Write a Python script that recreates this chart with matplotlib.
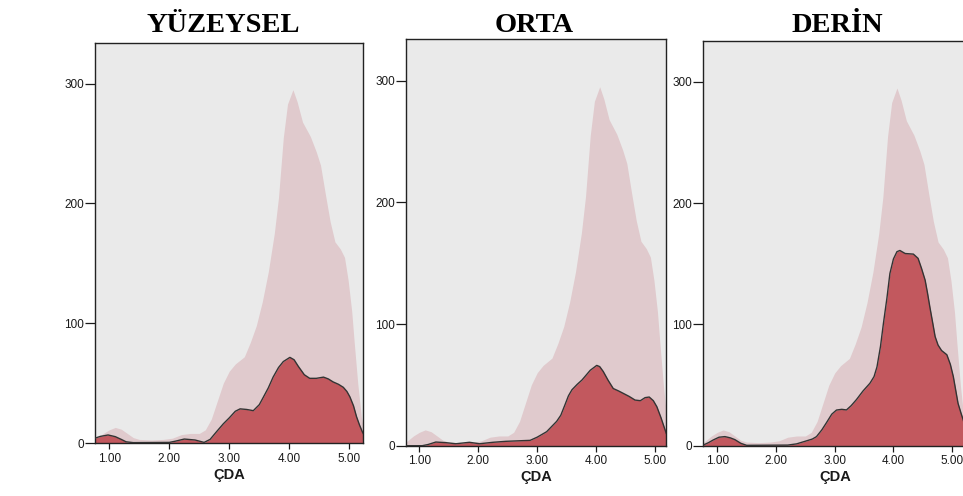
import matplotlib
matplotlib.use('Agg')
import matplotlib.pyplot as plt

# ---- data ----
titles = ['YÜZEYSEL', 'ORTA', 'DERİN']
x_ticks = [1, 2, 3, 4, 5]
x_tick_labels = ['1.00', '2.00', '3.00', '4.00', '5.00']
y_ticks = [0, 100, 200, 300]
y_tick_labels = ['0', '100', '200', '300']
x_label = 'ÇDA'

# total distribution (light background density, same in every panel)
total_x = [0.70, 0.80, 0.90, 1.00, 1.10, 1.20, 1.30, 1.40, 1.50, 1.70, 1.90, 2.05,
           2.20, 2.35, 2.50, 2.60, 2.70, 2.80, 2.90, 3.00, 3.10, 3.25, 3.35, 3.45,
           3.55, 3.65, 3.75, 3.82, 3.90, 3.97, 4.06, 4.13, 4.22, 4.35, 4.45, 4.52,
           4.60, 4.68, 4.76, 4.85, 4.92, 4.98, 5.04, 5.08, 5.14, 5.20, 5.26, 5.32]
total_y = [1, 4, 8, 11, 13, 11.5, 8, 4.5, 3, 2.5, 3, 4,
           7, 8, 8, 11, 20, 35, 50, 60, 66, 72, 84, 98,
           118, 143, 175, 205, 255, 283, 295, 285, 268, 256, 243, 232,
           208, 185, 168, 162, 155, 136, 110, 85, 50, 22, 6, 1]

# YÜZEYSEL group density
yuzeysel_x = [0.70, 0.76, 0.85, 0.98, 1.10, 1.20, 1.28, 1.40, 2.00, 2.10, 2.25, 2.43,
              2.58, 2.68, 2.78, 2.90, 3.00, 3.10, 3.18, 3.29, 3.40, 3.50, 3.57, 3.65,
              3.73, 3.82, 3.90, 4.01, 4.08, 4.15, 4.25, 4.34, 4.45, 4.57, 4.65, 4.73,
              4.82, 4.90, 4.96, 5.01, 5.07, 5.12, 5.17, 5.22, 5.30]
yuzeysel_y = [3, 4, 5.5, 6.7, 5.3, 3, 1, 0.3, 0.5, 1.5, 3.3, 2.5,
              0.5, 3, 9, 16, 21, 26.5, 28.5, 28, 27, 32, 38.5, 46,
              55, 63, 68, 71.5, 69.5, 64, 57, 54, 54, 55, 53.5, 51,
              49, 46.5, 43, 38.5, 31, 22, 15, 9, 2]

# ORTA group density
orta_x = [0.70, 1.05, 1.15, 1.28, 1.45, 1.62, 1.85, 2.02, 2.25, 2.47, 2.88, 3.00,
          3.16, 3.33, 3.40, 3.47, 3.53, 3.59, 3.68, 3.76, 3.90, 4.01, 4.06, 4.12,
          4.20, 4.29, 4.38, 4.46, 4.56, 4.66, 4.75, 4.83, 4.90, 4.97, 5.03, 5.10,
          5.19, 5.30]
orta_y = [0, 0, 1, 3, 2.5, 1.6, 2.8, 1.6, 2.8, 3.6, 4.4, 7,
          11.5, 20, 25, 33.5, 41, 46, 50.5, 54, 62, 66, 65, 61,
          54, 47, 45, 43, 40.5, 37.5, 37, 39.5, 40, 37, 32, 23,
          10, 1]

# DERİN group density
derin_x = [0.70, 0.76, 0.85, 0.93, 1.03, 1.13, 1.22, 1.30, 1.40, 1.50, 2.20, 2.35,
           2.52, 2.62, 2.69, 2.78, 2.86, 2.95, 3.03, 3.12, 3.20, 3.28, 3.37, 3.48,
           3.60, 3.67, 3.72, 3.78, 3.83, 3.89, 3.94, 4.00, 4.06, 4.11, 4.20, 4.34,
           4.42, 4.48, 4.54, 4.58, 4.62, 4.67, 4.71, 4.76, 4.82, 4.91, 4.97, 5.02,
           5.06, 5.10, 5.15, 5.19, 5.25, 5.32]
derin_y = [0, 0.5, 2.5, 4.7, 7, 7.5, 6.5, 5, 2, 0.3, 0.5, 1.5,
           4, 5.5, 7.5, 13, 19, 26, 29.4, 30, 29.5, 33, 38, 45,
           51.5, 57, 65, 82, 101, 122, 142, 154, 160, 161, 158.5, 158,
           154.5, 146, 136.5, 126, 114.5, 101, 90, 83, 78.5, 75, 67, 57,
           46, 35, 27, 21, 11, 3]

groups = [(yuzeysel_x, yuzeysel_y), (orta_x, orta_y), (derin_x, derin_y)]

# ---- styling / layout ----
W, H = 963, 496
bg_color = '#EAEAEA'
total_color = '#E0CACD'
group_color = '#C2585E'
line_color = '#333333'

# axes rectangles in pixels: left, top, right, bottom
axes_px = [(95, 43, 363, 443), (406, 39.3, 666.3, 445.7), (703.3, 40.7, 968, 445.7)]
xlims = [(0.762, 5.228), (0.774, 5.19), (0.762, 5.27)]
ylim = (0, 334)
title_x_px = [223, 534, 837]
title_base_px = 31.5

fig = plt.figure(figsize=(W / 100, H / 100), dpi=100)

for i, ((gx, gy), (l, t, r, b)) in enumerate(zip(groups, axes_px)):
    ax = fig.add_axes([l / W, 1 - b / H, (r - l) / W, (b - t) / H])
    ax.set_facecolor(bg_color)
    ax.fill_between(total_x, 0, total_y, color=total_color, linewidth=0, zorder=1)
    ax.fill_between(gx, 0, gy, color=group_color, linewidth=0, zorder=2)
    ax.plot(gx, gy, color=line_color, linewidth=1.0, zorder=3, solid_joinstyle='round')
    ax.set_xlim(*xlims[i])
    ax.set_ylim(*ylim)
    ax.set_xticks(x_ticks)
    ax.set_xticklabels(x_tick_labels)
    ax.set_yticks(y_ticks)
    ax.set_yticklabels(y_tick_labels)
    for lab in ax.get_xticklabels() + ax.get_yticklabels():
        lab.set_fontfamily('Liberation Sans')
        lab.set_fontsize(8.5)
        lab.set_color('#1a1a1a')
    ax.tick_params(axis='y', length=7, width=0.9, pad=1, colors='#1a1a1a')
    ax.tick_params(axis='x', length=4.5, width=0.9, pad=2.5, colors='#1a1a1a')
    for sp in ax.spines.values():
        sp.set_color('#222222')
        sp.set_linewidth(1.0)
    ax.set_xlabel(x_label, fontfamily='Liberation Sans', fontweight='bold',
                  fontsize=10.5, labelpad=2, color='#1a1a1a')
    fig.text(title_x_px[i] / W, 1 - title_base_px / H, titles[i],
             ha='center', va='baseline', fontfamily='Liberation Serif',
             fontweight='bold', fontsize=20.5, color='black')

fig.savefig('out.png', dpi=100)
